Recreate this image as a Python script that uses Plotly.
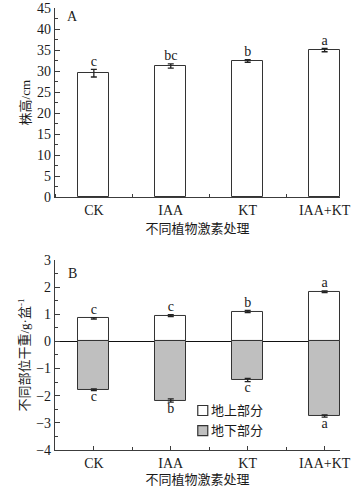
import plotly.graph_objects as go

categories = ["CK", "IAA", "KT", "IAA+KT"]
xpos = [0, 1, 2, 3]

# Panel A: plant height (cm)
height_vals = [29.5, 31.2, 32.4, 35.0]
height_err = [0.9, 0.5, 0.3, 0.4]
height_letters = ["c", "bc", "b", "a"]

# Panel B: dry weight of parts (g/pot)
above_vals = [0.85, 0.95, 1.10, 1.83]
above_err = [0.03, 0.04, 0.04, 0.03]
above_letters = ["c", "c", "b", "a"]
below_vals = [-1.78, -2.18, -1.42, -2.75]
below_err = [0.03, 0.06, 0.06, 0.04]
below_letters = ["c", "b", "c", "a"]
legend_names = ["地上部分", "地下部分"]

FONT = "Liberation Serif, Noto Sans CJK SC, serif"
AX = "#3c3c3c"
EDGE = "#333333"
GREY = "#bfbfbf"
TXT = "#1a1a1a"

fig = go.Figure()

fig.add_trace(go.Bar(
    x=xpos, y=height_vals, width=0.4,
    marker=dict(color="white", line=dict(color=EDGE, width=1)),
    error_y=dict(type="data", array=height_err, color="#222", thickness=1.3, width=3),
    showlegend=False, xaxis="x", yaxis="y"))
fig.add_trace(go.Scatter(
    x=xpos, y=[v + e for v, e in zip(height_vals, height_err)], mode="text",
    text=height_letters, textposition="top center",
    textfont=dict(family=FONT, size=14, color=TXT),
    showlegend=False, xaxis="x", yaxis="y"))

fig.add_trace(go.Bar(
    x=xpos, y=above_vals, width=0.4, name=legend_names[0],
    marker=dict(color="white", line=dict(color=EDGE, width=1)),
    error_y=dict(type="data", array=above_err, color="#222", thickness=1.3, width=3),
    showlegend=False, xaxis="x2", yaxis="y2"))
fig.add_trace(go.Bar(
    x=xpos, y=below_vals, width=0.4, name=legend_names[1],
    marker=dict(color=GREY, line=dict(color=EDGE, width=1)),
    error_y=dict(type="data", array=below_err, color="#222", thickness=1.3, width=3),
    showlegend=False, xaxis="x2", yaxis="y2"))
fig.add_trace(go.Scatter(
    x=xpos, y=[v + e for v, e in zip(above_vals, above_err)], mode="text",
    text=above_letters, textposition="top center",
    textfont=dict(family=FONT, size=14, color=TXT),
    showlegend=False, xaxis="x2", yaxis="y2"))
fig.add_trace(go.Scatter(
    x=xpos, y=[v - e for v, e in zip(below_vals, below_err)], mode="text",
    text=below_letters, textposition="bottom center",
    textfont=dict(family=FONT, size=14, color=TXT),
    showlegend=False, xaxis="x2", yaxis="y2"))

common_x = dict(
    range=[-0.505, 3.2], tickmode="array", tickvals=xpos, ticktext=categories,
    showline=True, linecolor=AX, linewidth=1.2, ticklen=4,
    tickcolor=AX, tickwidth=1, showgrid=False, zeroline=False, automargin=False,
    minor=dict(tick0=0.5, dtick=1, ticks="inside", ticklen=3, tickcolor=AX),
    tickfont=dict(family=FONT, size=14, color=TXT),
)

# manual legend (boxes + labels) in panel B
legend_shapes = [
    dict(type="rect", xref="x2", yref="y2", x0=1.351, x1=1.481, y0=-2.36, y1=-2.73,
         fillcolor="white", line=dict(color=EDGE, width=1.2)),
    dict(type="rect", xref="x2", yref="y2", x0=1.351, x1=1.481, y0=-3.10, y1=-3.47,
         fillcolor=GREY, line=dict(color=EDGE, width=1.2)),
]
legend_ann = [
    dict(text=legend_names[0], xref="x2", yref="y2", x=1.50, y=-2.545, showarrow=False,
         xanchor="left", yanchor="middle", font=dict(family=FONT, size=13, color=TXT)),
    dict(text=legend_names[1], xref="x2", yref="y2", x=1.50, y=-3.285, showarrow=False,
         xanchor="left", yanchor="middle", font=dict(family=FONT, size=13, color=TXT)),
]

fig.update_layout(
    width=364, height=492,
    margin=dict(l=55, r=24, t=8, b=42),
    paper_bgcolor="white", plot_bgcolor="white",
    barmode="overlay", bargap=0,
    font=dict(family=FONT, color=TXT),
    showlegend=False,
    xaxis=dict(common_x, anchor="y", domain=[0, 1], ticks="",
               title=dict(text="不同植物激素处理", font=dict(family=FONT, size=13, color=TXT), standoff=6)),
    yaxis=dict(
        domain=[0.5717, 1.0], range=[0, 45], dtick=5,
        showline=True, linecolor=AX, linewidth=1.2, ticks="inside", ticklen=5,
        tickcolor=AX, showgrid=False, zeroline=False, automargin=False,
        minor=dict(dtick=2.5, ticks="inside", ticklen=3, tickcolor=AX),
        tickfont=dict(family=FONT, size=14, color=TXT),
        title=dict(text="株高/cm", font=dict(family=FONT, size=13, color=TXT), standoff=3),
    ),
    xaxis2=dict(common_x, anchor="y2", domain=[0, 1], ticks="inside",
                title=dict(text="不同植物激素处理", font=dict(family=FONT, size=13, color=TXT), standoff=4)),
    yaxis2=dict(
        domain=[0, 0.4299], range=[-4, 3], dtick=1,
        showline=True, linecolor=AX, linewidth=1.2, ticks="inside", ticklen=5,
        tickcolor=AX, showgrid=False, automargin=False,
        zeroline=True, zerolinecolor="#111", zerolinewidth=1,
        minor=dict(dtick=0.5, ticks="inside", ticklen=3, tickcolor=AX),
        tickfont=dict(family=FONT, size=14, color=TXT),
        tickvals=[-4, -3, -2, -1, 0, 1, 2, 3],
        ticktext=["−4", "−3", "−2", "−1", "0", "1", "2", "3"],
        title=dict(text="不同部位干重/g·盆<sup>-1</sup>", font=dict(family=FONT, size=13, color=TXT), standoff=3),
    ),
    shapes=legend_shapes,
    annotations=[
        dict(text="A", xref="paper", yref="paper", x=0.06, y=0.98, showarrow=False,
             font=dict(family=FONT, size=14, color=TXT), xanchor="center", yanchor="middle"),
        dict(text="B", xref="paper", yref="paper", x=0.06, y=0.399, showarrow=False,
             font=dict(family=FONT, size=14, color=TXT), xanchor="center", yanchor="middle"),
    ] + legend_ann,
)

fig.write_html("out.html", post_script="document.body.style.margin='0';",
               config={"displayModeBar": False})
